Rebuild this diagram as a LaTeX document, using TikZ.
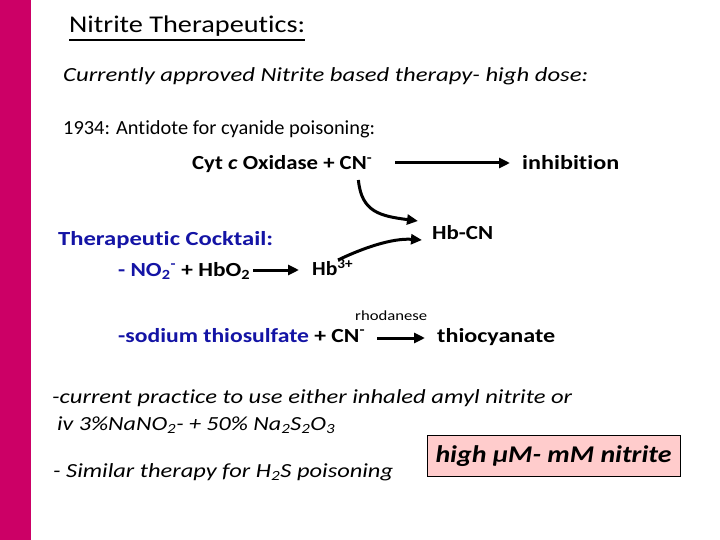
\documentclass[tikz,border=0pt]{standalone}
\usepackage{fontspec}
\setmainfont{Carlito}[Ligatures=NoCommon]
\usetikzlibrary{arrows.meta}
\definecolor{magenta}{RGB}{204, 0, 102}
\definecolor{blue}{RGB}{20, 20, 165}
\definecolor{pink}{RGB}{255, 204, 204}
\newcommand{\fitto}[2]{\resizebox{#1}{\height}{#2}}

\begin{document}
\begin{tikzpicture}[x=1pt, y=-1pt,
    txt/.style={anchor=base west, inner sep=0pt, font=\fontsize{20}{24}\selectfont},
    ital/.style={txt, font=\fontsize{20}{24}\selectfont\itshape},
    chem/.style={txt, font=\fontsize{20}{24}\selectfont\bfseries},
    arr/.style={line width=3pt, -{Triangle[length=11pt, width=10pt]}}]
      \fill[white] (0, 0) rectangle (720, 540);
      \fill[magenta] (0, 0) rectangle (31, 540);
      \node[txt, font=\fontsize{24}{28}\selectfont] (title) at (69, 33) {\fitto{236pt}{Nitrite Therapeutics:}};
      \draw[line width=2pt] ([shift={(0, 7)}]title.base west) -- ([shift={(0, 7)}]title.base east);
      \node[ital] (approved) at (63, 82) {\fitto{525pt}{Currently approved Nitrite based therapy- high dose:}};
      \node[txt] (antidote) at (63, 135) {\fitto{312pt}{1934: Antidote for cyanide poisoning:}};
      % cyanide on cytochrome c oxidase
      \node[chem] (cyt) at (192, 170) {\fitto{180pt}{Cyt \textit{c} Oxidase + CN\textsuperscript{-}}};
      \node[chem] (inhib) at (522, 170) {\fitto{97pt}{inhibition}};
      \draw[arr] ([shift={(23, -7)}]cyt.base east) -- ([shift={(-12, -7)}]inhib.base west);
      \node[chem] (hbcn) at (432, 240) {\fitto{61pt}{Hb-CN}};
      \draw[arr] ([shift={(-14, 10)}]cyt.base east) .. controls +(3, 32) and +(-38, -5) .. ([shift={(-14, -19)}]hbcn.base west);
      % nitrite cocktail
      \node[chem, text=blue] (cocktail) at (58, 245) {\fitto{215pt}{Therapeutic Cocktail:}};
      \node[chem] (hbo) at (118, 276) {\fitto{132pt}{\textcolor{blue}{- NO\textsubscript{2}\textsuperscript{-}} + HbO\textsubscript{2}}};
      \node[chem] (hb3) at (312, 276) {\fitto{41pt}{Hb\textsuperscript{3+}}};
      \draw[arr] ([shift={(3, -6)}]hbo.base east) -- ([shift={(-13, -6)}]hb3.base west);
      \draw[arr] ([shift={(26, -16)}]hb3.base west) .. controls +(25, -12) and +(-30, -2) .. ([shift={(-10, 0)}]hbcn.base west);
      % thiosulfate
      \node[chem] (sodium) at (118, 342) {\fitto{247pt}{\textcolor{blue}{-sodium thiosulfate} + CN\textsuperscript{-}}};
      \node[chem] (thio) at (437, 342) {\fitto{118pt}{thiocyanate}};
      \node[txt, font=\fontsize{14}{16}\selectfont] (rhod) at (355, 320) {\fitto{72pt}{rhodanese}};
      \draw[arr] ([shift={(12, -4)}]sodium.base east) -- ([shift={(-12, -4)}]thio.base west);
      % practice
      \node[ital] (practice) at (52, 403) {\fitto{520pt}{-current practice to use either inhaled amyl nitrite or}};
      \node[ital] (iv) at (57, 430) {\fitto{278pt}{iv 3\%NaNO\textsubscript{2}- + 50\% Na\textsubscript{2}S\textsubscript{2}O\textsubscript{3}}};
      \node[ital] (similar) at (53, 477) {\fitto{340pt}{- Similar therapy for H\textsubscript{2}S poisoning}};
      \node[draw, fill=pink, line width=1pt, inner sep=0pt, minimum width=253pt, minimum height=41pt,
        font=\fontsize{24}{28}\selectfont\bfseries\itshape] (high) at (553.5, 456) {\fitto{236pt}{high µM- mM nitrite}};
    \end{tikzpicture}
\end{document}
